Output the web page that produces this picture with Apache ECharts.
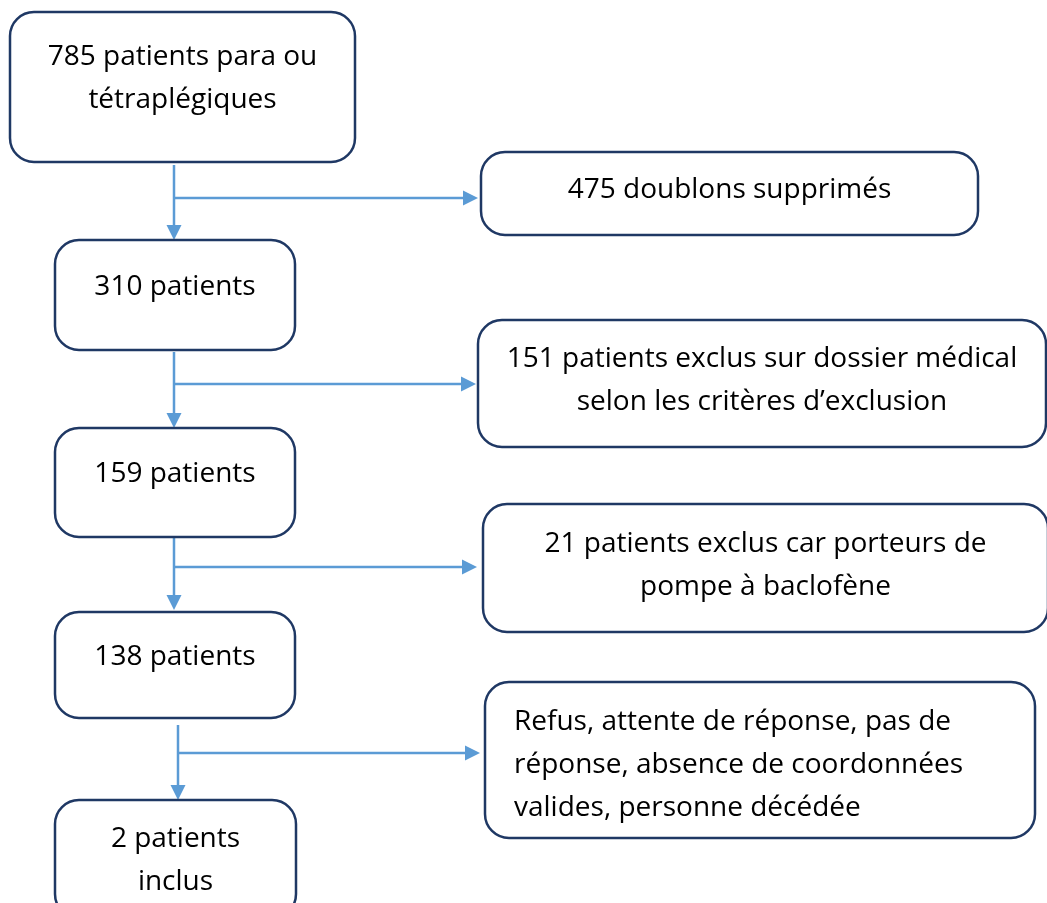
<!DOCTYPE html>
<html>

<head>
    <meta charset="utf-8">
    <title>Flow chart</title>
    <script src="https://cdn.jsdelivr.net/npm/echarts@6/dist/echarts.min.js"></script>
    <style>
        html,
        body {
            margin: 0;
            padding: 0;
            background: #ffffff;
        }

        #chart {
            width: 1047px;
            height: 903px;
        }
    </style>
</head>

<body>
    <div id="chart"></div>
</body>
<script type="text/javascript">
    // main column (left)
    var mainLabels = ['785 patients para ou\ntétraplégiques', '310 patients', '159 patients', '138 patients', '2 patients\ninclus'];
    var mainLeft = [10, 55, 55, 55, 55];
    var mainTop = [12, 240, 428, 612, 800];
    var mainRight = [355, 295, 295, 295, 296];
    var mainBottom = [162, 350, 537, 718, 918];
    var mainTextY = [79, 287, 474, 657, 861];

    // exclusions (right)
    var sideLabels = [
        '475 doublons supprimés',
        '151 patients exclus sur dossier médical\nselon les critères d\u2019exclusion',
        '21 patients exclus car porteurs de\npompe à baclofène',
        'Refus, attente de réponse, pas de\nréponse, absence de coordonnées\nvalides, personne décédée'
    ];
    var sideLeft = [481, 478, 483, 485];
    var sideTop = [152, 320, 504, 682];
    var sideRight = [978, 1046, 1048, 1035];
    var sideBottom = [235, 447, 632, 838];
    var sideTextY = [190, 381, 566, 765];
    var sideAlign = ['center', 'center', 'center', 'left'];

    // connectors
    var arrowX = [174, 174, 174, 178];
    var arrowStart = [165, 352, 538, 725];
    var arrowEnd = [240, 428, 610, 800];
    var branchY = [198, 384, 567, 753];
    var branchEnd = [478, 476, 477, 480];

    var boxes = [];
    for (var i = 0; i < mainLabels.length; i++) {
        boxes.push([mainLeft[i], mainTop[i], mainRight[i], mainBottom[i], mainTextY[i], 'center', mainLabels[i]]);
    }
    for (var j = 0; j < sideLabels.length; j++) {
        boxes.push([sideLeft[j], sideTop[j], sideRight[j], sideBottom[j], sideTextY[j], sideAlign[j], sideLabels[j]]);
    }

    var arrows = [];
    for (var k = 0; k < arrowX.length; k++) {
        arrows.push([arrowX[k], arrowStart[k], arrowEnd[k], branchY[k], branchEnd[k]]);
    }

    var FONT = '28px "Open Sans", "Noto Sans", sans-serif';
    var LINE = '#5B9BD5';

    function renderBox(params, api) {
        var p0 = api.coord([api.value(0), api.value(1)]);
        var p1 = api.coord([api.value(2), api.value(3)]);
        var ty = api.coord([0, api.value(4)])[1];
        var align = boxes[params.dataIndex][5];
        var text = boxes[params.dataIndex][6];
        var tx = align === 'left' ? p0[0] + 29 : (p0[0] + p1[0]) / 2;
        return {
            type: 'group',
            children: [{
                type: 'rect',
                shape: {
                    x: p0[0],
                    y: p0[1],
                    width: p1[0] - p0[0],
                    height: p1[1] - p0[1],
                    r: 24
                },
                style: {
                    fill: '#ffffff',
                    stroke: '#1F3864',
                    lineWidth: 2.5
                }
            }, {
                type: 'text',
                style: {
                    text: text,
                    x: tx,
                    y: ty,
                    align: align,
                    verticalAlign: 'middle',
                    font: FONT,
                    lineHeight: 43,
                    fill: '#000000'
                }
            }]
        };
    }

    function renderArrow(params, api) {
        var top = api.coord([api.value(0), api.value(1)]);
        var bot = api.coord([api.value(0), api.value(2)]);
        var br = api.coord([api.value(4), api.value(3)]);
        var x = top[0];
        var by = br[1];
        var head = 15;
        var half = 7.5;
        return {
            type: 'group',
            children: [{
                type: 'line',
                shape: { x1: x, y1: top[1], x2: x, y2: bot[1] - head },
                style: { stroke: LINE, lineWidth: 2.5 }
            }, {
                type: 'polygon',
                shape: { points: [[x - half, bot[1] - head], [x + half, bot[1] - head], [x, bot[1]]] },
                style: { fill: LINE }
            }, {
                type: 'line',
                shape: { x1: x, y1: by, x2: br[0] - head, y2: by },
                style: { stroke: LINE, lineWidth: 2.5 }
            }, {
                type: 'polygon',
                shape: { points: [[br[0] - head, by - half], [br[0] - head, by + half], [br[0], by]] },
                style: { fill: LINE }
            }]
        };
    }

    var myChart = echarts.init(document.getElementById('chart'));
    var option = {
        animation: false,
        grid: { left: 0, right: 0, top: 0, bottom: 0 },
        xAxis: { type: 'value', min: 0, max: 1047, show: false },
        yAxis: { type: 'value', min: 0, max: 903, inverse: true, show: false },
        series: [{
            type: 'custom',
            renderItem: renderArrow,
            data: arrows,
            silent: true
        }, {
            type: 'custom',
            renderItem: renderBox,
            data: boxes.map(function(b) { return b.slice(0, 5); }),
            silent: true
        }]
    };
    myChart.setOption(option);
</script>

</html>
